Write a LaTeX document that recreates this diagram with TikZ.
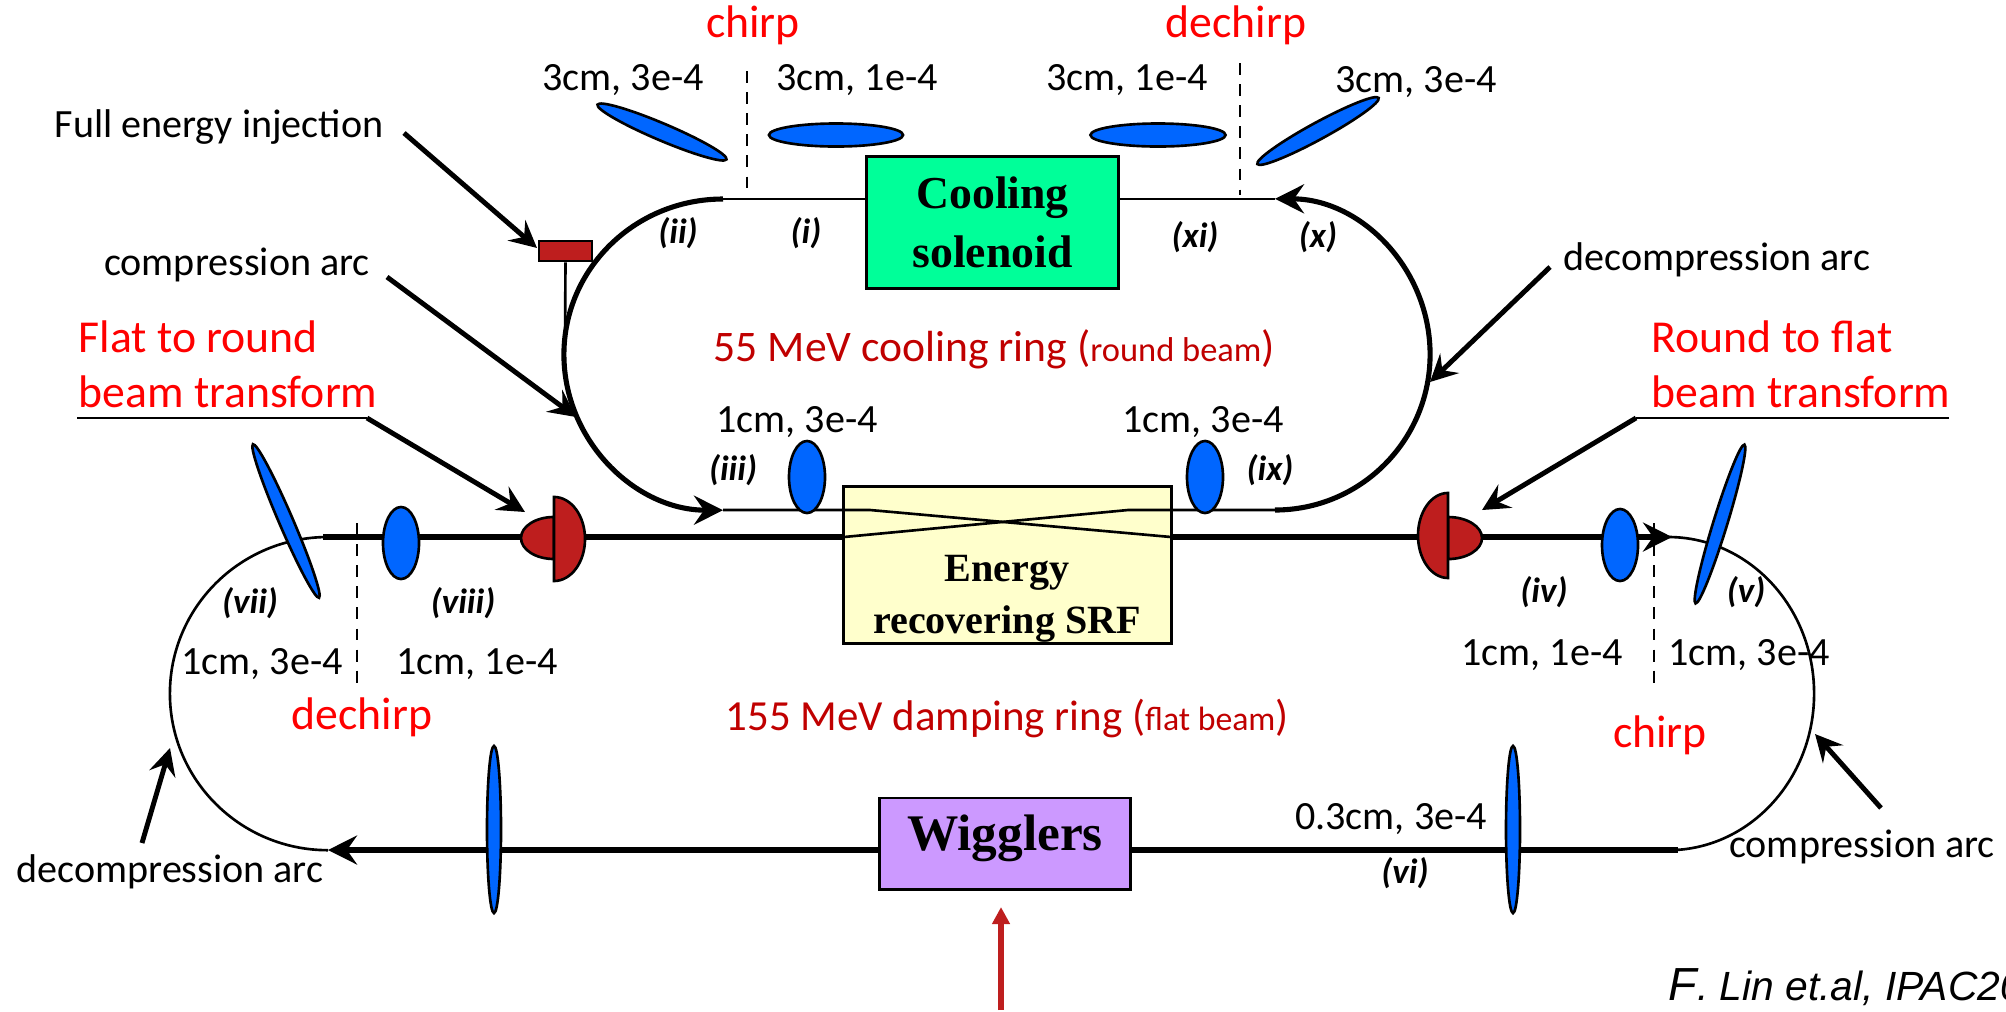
\documentclass[tikz,border=0pt]{standalone}
\usepackage{fontspec}
\setmainfont{Carlito}
\newfontfamily\timesb[Ligatures=TeX]{Liberation Serif}
\newfontfamily\arialf{Liberation Sans}
\usetikzlibrary{arrows.meta,shapes.geometric}
\definecolor{bunchblue}{HTML}{0066FF}
\definecolor{magred}{HTML}{BE1E1E}
\definecolor{ringred}{HTML}{C00000}
\definecolor{coolgreen}{HTML}{00FF99}
\definecolor{srfyellow}{HTML}{FFFFCC}
\definecolor{wigpurple}{HTML}{CC99FF}
\tikzset{
  bunch/.style={ellipse,draw,fill=bunchblue,line width=0.75pt,inner sep=0pt},
  elembox/.style={draw,line width=0.85pt,inner sep=0pt,align=center},
  param/.style={yshift=-0.5pt,font=\fontsize{11.4}{13}\selectfont},
  tag/.style={font=\fontsize{10}{12}\selectfont\bfseries\itshape},
  redtext/.style={text=red,font=\fontsize{13}{15}\selectfont},
  ringname/.style={text=ringred,font=\fontsize{12.4}{14}\selectfont},
  beamthin/.style={line width=0.75pt},
  beamarc/.style={line width=0.75pt},
  coolarc/.style={line width=1.45pt},
  beamthick/.style={line width=1.6pt},
  magnet/.style={draw,fill=magred,line width=0.75pt},
  pointer/.style={line width=1.4pt,-{Stealth[length=2.7mm,width=2.7mm,inset=1mm]}},
  beamhead/.style={-{Stealth[length=2.9mm,width=2.9mm,inset=1mm]}},
  chirpline/.style={line width=0.5pt,dash pattern=on 3.4pt off 2.6pt}
}
\begin{document}
\begin{tikzpicture}[x=0.01cm,y=-0.01cm]
  \useasboundingbox (0,0) rectangle (2006,1011);
  \clip (0,0) rectangle (2006,1011);

  \coordinate (coolTL) at (723,199);
  \coordinate (coolBL) at (723,510);
  \coordinate (coolTR) at (1275,199);
  \coordinate (coolBR) at (1275,510);
  \coordinate (dampTL) at (328,537);
  \coordinate (dampTLend) at (323,537);
  \coordinate (dampBL) at (328,850);
  \coordinate (dampTR) at (1668,537);
  \coordinate (dampTRtip) at (1672,537);
  \coordinate (dampBR) at (1678,850);
  \coordinate (crossTL) at (870,510);
  \coordinate (crossTR) at (1128,510);
  \coordinate (crossBL) at (844,537);
  \coordinate (crossBR) at (1171,537);

  % beam lines first, the boxes sit on top
  \draw[beamarc] (dampTL) arc[start angle=90,end angle=270,x radius=1.58cm,y radius=1.565cm];
  \draw[beamarc] (dampTR) arc[start angle=90,end angle=-90,x radius=1.46cm,y radius=1.565cm];
  \draw[coolarc,beamhead] (coolTL) arc[start angle=90,end angle=270,x radius=1.59cm,y radius=1.555cm];
  \draw[coolarc,beamhead] (coolBR) arc[start angle=-90,end angle=90,x radius=1.55cm,y radius=1.555cm];

  \node[elembox,fill=coolgreen,minimum width=2.51cm,minimum height=1.31cm,font=\timesb\bfseries\fontsize{13}{16.7}\selectfont] (coolBox) at (992.5,222.5) {Cooling\\solenoid};
  \node[elembox,fill=srfyellow,minimum width=3.27cm,minimum height=1.56cm] (srfBox) at (1007.5,565) {};
  \node[elembox,fill=wigpurple,minimum width=2.50cm,minimum height=0.91cm] (wigBox) at (1005,843.5) {};
  \node[font=\timesb\bfseries\fontsize{14.6}{17}\selectfont] (wigText) at (1005,838) {Wigglers};
  \node[font=\timesb\bfseries\fontsize{11.4}{14.8}\selectfont,align=center] (srfText) at (1007,599) {Energy\\recovering SRF};

  \draw[beamthin] (coolTL) -- (coolTL -| coolBox.west);
  \draw[beamthin] (coolTR) -- (coolTR -| coolBox.east);
  \draw[beamthin] (coolBL) -- (crossTL) -- (crossBR);
  \draw[beamthin] (coolBR) -- (crossTR) -- (crossBL);
  \draw[beamthick] (dampTLend) -- (crossBL);
  \draw[beamthick,beamhead] (crossBR) -- (dampTRtip);
  \draw[beamthick,beamhead] (dampBL -| wigBox.west) -- (dampBL);
  \draw[beamthick] (dampBR -| wigBox.east) -- (dampBR);

  % bunch shapes
  \node[bunch,minimum width=1.40cm,minimum height=0.17cm,rotate=-23] (bunchA) at (662,132) {};
  \node[bunch,minimum width=1.34cm,minimum height=0.23cm] (bunchB) at (836,135) {};
  \node[bunch,minimum width=1.35cm,minimum height=0.23cm] (bunchC) at (1158,135) {};
  \node[bunch,minimum width=1.38cm,minimum height=0.17cm,rotate=28.6] (bunchD) at (1318,131) {};
  \node[bunch,minimum width=0.36cm,minimum height=0.72cm] (bunchE) at (807,477) {};
  \node[bunch,minimum width=0.36cm,minimum height=0.72cm] (bunchF) at (1205,477) {};
  \node[bunch,minimum width=0.36cm,minimum height=0.72cm] (bunchG) at (401,543) {};
  \node[bunch,minimum width=0.36cm,minimum height=0.72cm] (bunchH) at (1620,545) {};
  \node[bunch,minimum width=1.67cm,minimum height=0.14cm,rotate=-66.7] (bunchI) at (286,521) {};
  \node[bunch,minimum width=1.66cm,minimum height=0.14cm,rotate=72.9] (bunchJ) at (1720,524) {};
  \node[bunch,minimum width=0.14cm,minimum height=1.67cm] (bunchK) at (494,829.5) {};
  \node[bunch,minimum width=0.14cm,minimum height=1.67cm] (bunchL) at (1513,829.5) {};

  % round/flat transform magnets
  \coordinate (moonA) at (554,559);
  \coordinate (moonB) at (554,581);
  \coordinate (moonC) at (1448,517);
  \coordinate (moonD) at (1448,578);
  \draw[magnet] (moonA) arc[start angle=270,end angle=90,x radius=0.33cm,y radius=0.21cm] -- cycle;
  \draw[magnet] (moonB) arc[start angle=-90,end angle=90,x radius=0.31cm,y radius=0.42cm] -- cycle;
  \draw[magnet] (moonC) arc[start angle=90,end angle=-90,x radius=0.34cm,y radius=0.21cm] -- cycle;
  \draw[magnet] (moonD) arc[start angle=270,end angle=90,x radius=0.30cm,y radius=0.425cm] -- cycle;

  % injection
  \node[magnet,minimum width=0.53cm,minimum height=0.20cm,inner sep=0pt] (injBox) at (565.5,251) {};
  \coordinate (injFoot) at (565,340);
  \draw[beamthin] (injBox.south) -- (injFoot);

  % dashed chirp marks
  \coordinate (dashA) at (747,71);
  \coordinate (dashAe) at (747,197);
  \coordinate (dashB) at (1240,63);
  \coordinate (dashBe) at (1240,195);
  \coordinate (dashC) at (357,523);
  \coordinate (dashCe) at (357,689);
  \coordinate (dashD) at (1654,523);
  \coordinate (dashDe) at (1654,688);
  \draw[chirpline] (dashA) -- (dashAe);
  \draw[chirpline] (dashB) -- (dashBe);
  \draw[chirpline] (dashC) -- (dashCe);
  \draw[chirpline] (dashD) -- (dashDe);

  % labels
  \node[redtext] (chirpTop) at (753,25) {chirp};
  \node[redtext] (dechirpTop) at (1236,25) {dechirp};
  \node[redtext] (dechirpLow) at (362,717) {dechirp};
  \node[redtext] (chirpLow) at (1660,735) {chirp};
  \node[redtext,anchor=west,inner sep=0pt] (flatA) at (78,337) {Flat to round};
  \node[redtext,anchor=west,inner sep=0pt] (flatB) at (78,392) {beam transform};
  \node[redtext,anchor=west,inner sep=0pt] (roundA) at (1651,337) {Round to flat};
  \node[redtext,anchor=west,inner sep=0pt] (roundB) at (1651,392) {beam transform};

  \node[param] (lblA) at (623,78) {3cm, 3e-4};
  \node[param] (lblB) at (857,78) {3cm, 1e-4};
  \node[param] (lblC) at (1127,78) {3cm, 1e-4};
  \node[param] (lblD) at (1416,80) {3cm, 3e-4};
  \node[param] (lblE) at (797,420) {1cm, 3e-4};
  \node[param] (lblF) at (1203,420) {1cm, 3e-4};
  \node[param] (lblG) at (262,662) {1cm, 3e-4};
  \node[param] (lblH) at (477,662) {1cm, 1e-4};
  \node[param] (lblI) at (1542,653) {1cm, 1e-4};
  \node[param] (lblJ) at (1749,653) {1cm, 3e-4};
  \node[param] (lblK) at (1391,817) {0.3cm, 3e-4};

  \node[tag] (tagI) at (806,233) {(i)};
  \node[tag] (tagII) at (678,233) {(ii)};
  \node[tag] (tagIII) at (733,470) {(iii)};
  \node[tag] (tagIV) at (1544,592) {(iv)};
  \node[tag] (tagV) at (1746,592) {(v)};
  \node[tag] (tagVI) at (1405,873) {(vi)};
  \node[tag] (tagVII) at (250,603) {(vii)};
  \node[tag] (tagVIII) at (463,603) {(viii)};
  \node[tag] (tagIX) at (1270,470) {(ix)};
  \node[tag] (tagX) at (1318,237) {(x)};
  \node[tag] (tagXI) at (1195,237) {(xi)};

  \node[ringname,anchor=west,inner sep=0pt] (coolName) at (713,349) {55 MeV cooling ring ({\fontsize{9.8}{11}\selectfont round beam})};
  \node[ringname,anchor=west,inner sep=0pt,font=\fontsize{12.2}{14}\selectfont] (dampName) at (725,718) {155 MeV damping ring ({\fontsize{9.6}{11}\selectfont flat beam})};

  \node[param] (injText) at (219,125) {Full energy injection};
  \node[param] (compL) at (237,263) {compression arc};
  \node[param] (decompR) at (1717,258) {decompression arc};
  \node[param] (decompL) at (170,870) {decompression arc};
  \node[param] (compR) at (1862,845) {compression arc};
  \node[anchor=west,inner sep=0pt,font=\arialf\itshape\fontsize{11.6}{13}\selectfont] (credit) at (1668,987) {{\fontsize{13.2}{15}\selectfont F}. Lin et.al, IPAC20};

  % pointers
  \coordinate (injFrom) at (404,133);
  \coordinate (injTo) at (537,248);
  \coordinate (compLFrom) at (387,277);
  \coordinate (compLTo) at (576,417);
  \coordinate (decompRFrom) at (1550,267);
  \coordinate (decompRTo) at (1430,382);
  \coordinate (flatKnee) at (367,418);
  \coordinate (flatEnd) at (77,418);
  \coordinate (flatTo) at (525,512);
  \coordinate (roundKnee) at (1636,418);
  \coordinate (roundEnd) at (1949,418);
  \coordinate (roundTo) at (1482,510);
  \coordinate (decompLFrom) at (142,843);
  \coordinate (decompLTo) at (170,748);
  \coordinate (compRFrom) at (1881,808);
  \coordinate (compRTo) at (1815,734);
  \coordinate (pumpFrom) at (1001,1010);
  \coordinate (pumpTo) at (1001,907);
  \draw[pointer] (injFrom) -- (injTo);
  \draw[pointer] (compLFrom) -- (compLTo);
  \draw[pointer] (decompRFrom) -- (decompRTo);
  \draw[beamthin] (flatEnd) -- (flatKnee);
  \draw[pointer] (flatKnee) -- (flatTo);
  \draw[beamthin] (roundEnd) -- (roundKnee);
  \draw[pointer] (roundKnee) -- (roundTo);
  \draw[pointer] (decompLFrom) -- (decompLTo);
  \draw[pointer] (compRFrom) -- (compRTo);
  \draw[draw=magred,line width=1.7pt,-{Triangle[length=1.7mm,width=1.7mm,fill=magred]}] (pumpFrom) -- (pumpTo);
\end{tikzpicture}
\end{document}
